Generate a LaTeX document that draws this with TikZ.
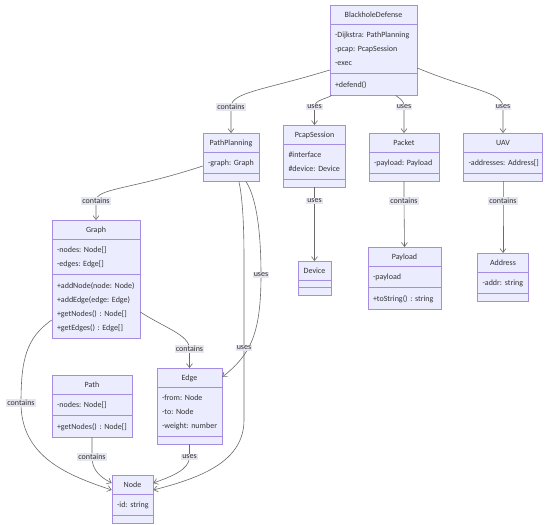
\documentclass[tikz,border=0pt]{standalone}
\usepackage{fontspec}
\setmainfont{Carlito}
\usetikzlibrary{positioning,shapes.multipart,arrows.meta}
\definecolor{classfill}{HTML}{ECECFF}
\definecolor{classline}{HTML}{A48DE3}
\definecolor{linkcol}{HTML}{6A6A6A}
\definecolor{lblfill}{HTML}{E6E6F0}
\definecolor{txt}{HTML}{333333}
\frenchspacing
\newcommand{\ttl}[1]{\centering\rule[-3pt]{0pt}{11pt}#1\par}
\newcommand{\mb}[1]{\mbox{\strut #1}\par}

\begin{document}
\begin{tikzpicture}[x=1pt,y=-1pt,
  cls/.style={rectangle split, rectangle split parts=3, rectangle split ignore empty parts=false,
    draw=classline, fill=classfill, line width=0.6pt, inner xsep=5pt, inner ysep=3.5pt,
    align=left, font=\fontsize{8}{14}\selectfont, text=txt, anchor=north},
  lbl/.style={fill=lblfill, inner sep=1pt, font=\fontsize{8}{9}\selectfont, text=txt},
  arr/.style={draw=linkcol, line width=0.6pt, -{Straight Barb[length=4pt,width=6pt]}}]
            \fill[white] (0,0) rectangle (550,525);
            \useasboundingbox (0,0) rectangle (550,525);

            \node[cls, text width=77pt] (bhd) at (373.5,5) {\ttl{BlackholeDefense}\nodepart{two}\mb{-Dijkstra: PathPlanning}\mb{-pcap: PcapSession}\mb{-exec}\nodepart{three}\mb{+defend()}};
            \node[cls, text width=46pt] (pathplanning) at (231,133) {\ttl{PathPlanning}\nodepart{two}\mb{-graph: Graph}\nodepart{three}};
            \node[cls, text width=52pt] (pcapsession) at (314.5,125) {\ttl{PcapSession}\nodepart{two}\mb{\#interface}\mb{\#device: Device}\nodepart{three}};
            \node[cls, text width=60pt] (packet) at (404,133) {\ttl{Packet}\nodepart{two}\mb{-payload: Payload}\nodepart{three}};
            \node[cls, text width=69pt] (uav) at (503,133) {\ttl{UAV}\nodepart{two}\mb{-addresses: Address[]}\nodepart{three}};
            \node[cls, text width=78pt] (graph) at (96,220) {\ttl{Graph}\nodepart{two}\mb{-nodes: Node[]}\mb{-edges: Edge[]}\nodepart{three}\mb{+addNode(node: Node)}\mb{+addEdge(edge: Edge)}\mb{+getNodes() : Node[]}\mb{+getEdges() : Edge[]}};
            \node[cls, text width=23pt] (device) at (314.5,261) {\ttl{Device}\nodepart{two}\nodepart{three}};
            \node[cls, text width=63pt] (payload) at (404.5,247) {\ttl{Payload}\nodepart{two}\mb{-payload}\nodepart{three}\mb{+toString() : string}};
            \node[cls, text width=41pt] (address) at (503,253) {\ttl{Address}\nodepart{two}\mb{-addr: string}\nodepart{three}};
            \node[cls, text width=70pt] (path) at (92,375) {\ttl{Path}\nodepart{two}\mb{-nodes: Node[]}\nodepart{three}\mb{+getNodes() : Node[]}};
            \node[cls, text width=55pt] (edgebox) at (189.5,368) {\ttl{Edge}\nodepart{two}\mb{-from: Node}\mb{-to: Node}\mb{-weight: number}\nodepart{three}};
            \node[cls, text width=31pt] (nodebox) at (132.5,475) {\ttl{Node}\nodepart{two}\mb{-id: string}\nodepart{three}};

            \draw[arr] ([yshift=-65pt]bhd.north west) .. controls (265,90) and (231,92) .. (231,107) node[lbl] (lb1) {contains} -- (pathplanning.north);
            \draw[arr] ([xshift=2pt]bhd.south west) .. controls (326,99) and (314.5,100) .. (314.5,107) node[lbl] (lb2) {uses} -- (pcapsession.north);
            \draw[arr] ([xshift=66pt]bhd.south west) .. controls (400,99) and (404,100) .. (404,107) node[lbl] (lb3) {uses} -- (packet.north);
            \draw[arr] ([yshift=-63pt]bhd.north east) .. controls (470,90) and (503,92) .. (503,107) node[lbl] (lb4) {uses} -- (uav.north);

            \draw[arr] ([yshift=-33pt]pathplanning.north west) .. controls (130,190) and (96,188) .. (96,201) node[lbl] (lb5) {contains} -- (graph.north);
            \draw[arr] ([xshift=-13.4pt]pathplanning.south east) .. controls (258,200) and (261,240) .. (261,275) node[lbl] (lb6) {uses} .. controls (261,335) and (250,355) .. ([yshift=-9pt]edgebox.north east);
            \draw[arr] ([xshift=-20.4pt]pathplanning.south east) .. controls (243,200) and (244,230) .. (244,260) -- (244,348) node[lbl] (lb7) {uses} -- (244,420) .. controls (244,462) and (200,478) .. ([yshift=-15pt]nodebox.north east);

            \draw[arr] (pcapsession.south) -- (314.5,201) node[lbl] (lb8) {uses} -- (device.north);
            \draw[arr] (packet.south) -- (404,201) node[lbl] (lb9) {contains} -- (payload.north);
            \draw[arr] (uav.south) -- (503,201) node[lbl] (lb10) {contains} -- (address.north);

            \draw[arr] ([yshift=-92pt]graph.north east) .. controls (165,328) and (189.5,335) .. (189.5,349) node[lbl] (lb11) {contains} -- (edgebox.north);
            \draw[arr] ([yshift=-100pt]graph.north west) .. controls (26,338) and (21,360) .. (21,403) node[lbl] (lb12) {contains} .. controls (21,458) and (70,476) .. ([yshift=-15pt]nodebox.north west);
            \draw[arr] (path.south) -- (92,457) node[lbl] (lb13) {contains} .. controls (92,470) and (100,477) .. ([yshift=-8pt]nodebox.north west);
            \draw[arr] (edgebox.south) -- (189.5,457) node[lbl] (lb14) {uses} .. controls (189.5,470) and (170,477) .. ([yshift=-8pt]nodebox.north east);
\end{tikzpicture}
\end{document}
